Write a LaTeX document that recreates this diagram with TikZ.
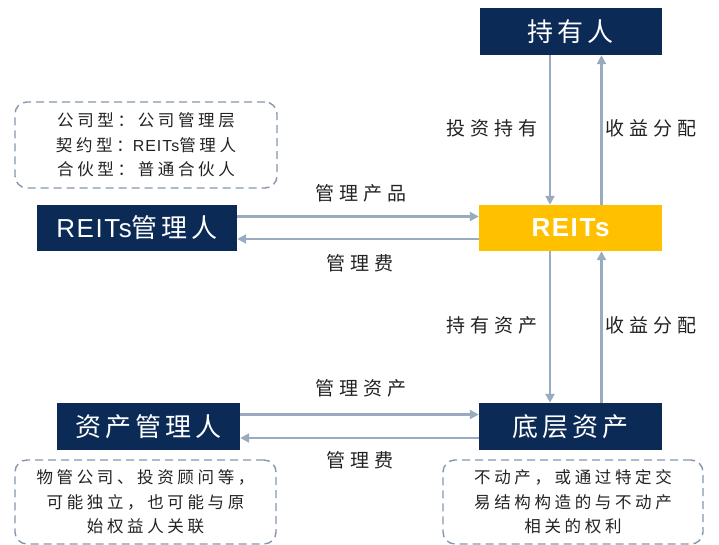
\documentclass[tikz,border=0pt]{standalone}
\usepackage{fontspec}
\usetikzlibrary{arrows.meta}
\newfontfamily\cjkbox[LetterSpace=15]{Noto Sans CJK SC}
\newfontfamily\cjklab[LetterSpace=25]{Noto Sans CJK SC}
\newfontfamily\cjknote[LetterSpace=22]{Noto Sans CJK SC}
\newfontfamily\latbox[LetterSpace=6]{Liberation Sans}
\definecolor{navy}{HTML}{0C2A56}
\definecolor{gold}{HTML}{FFC000}
\definecolor{arrowc}{HTML}{98ABBF}
\definecolor{dashc}{HTML}{8697AD}
\definecolor{labc}{HTML}{222222}
\tikzset{
  navybox/.style={fill=navy, text=white, minimum width=183pt, minimum height=47pt, inner sep=0pt, font=\fontsize{26}{28}\selectfont\cjkbox},
  goldbox/.style={fill=gold, text=white, minimum width=183pt, minimum height=46pt, inner sep=0pt, font=\fontsize{26}{28}\selectfont\latbox\bfseries},
  notebox/.style={draw=dashc, line width=1.4pt, dash pattern=on 8pt off 5pt, rounded corners=12pt, inner sep=0pt, align=center, text=labc, font=\fontsize{16.5}{24.5}\selectfont\cjknote},
  lab/.style={text=labc, inner sep=0pt, font=\fontsize{19}{20}\selectfont\cjklab},
  arr/.style={draw=arrowc, line width=2.4pt, -{Triangle[length=9pt,width=9pt]}}
}
\begin{document}
\begin{tikzpicture}[x=1pt,y=-1pt]
\useasboundingbox (0,0) rectangle (719,545);
\node[navybox, minimum width=182pt] (hold) at (570.5,31.5) {持有人};
\node[goldbox] (reits) at (570.5,228) {REITs};
\node[navybox, minimum width=200pt, minimum height=46pt] (mgr) at (137,228) {{\latbox REITs}管理人};
\node[navybox] (am) at (148.5,426.5) {资产管理人};
\node[navybox] (base) at (570.5,426.5) {底层资产};
\node[notebox, minimum width=262pt, minimum height=86pt] (n1) at (146,145) {公司型：公司管理层\\契约型：{\latbox\fontsize{16}{24}\selectfont REITs}管理人\\合伙型：普通合伙人};
\node[notebox, minimum width=261pt, minimum height=84pt] (n2) at (145.5,502) {物管公司、投资顾问等，\\可能独立，也可能与原\\始权益人关联};
\node[notebox, minimum width=260pt, minimum height=84pt] (n3) at (573,502) {不动产，或通过特定交\\易结构构造的与不动产\\相关的权利};
% vertical arrows
\draw[arr] ([xshift=-20.5pt]hold.south) -- ([xshift=-20.5pt]reits.north);
\draw[arr] ([xshift=31pt]reits.north) -- ([xshift=31pt]hold.south);
\draw[arr] ([xshift=-20.5pt]reits.south) -- ([xshift=-20.5pt]base.north);
\draw[arr] ([xshift=31pt]base.north) -- ([xshift=31pt]reits.south);
% horizontal arrows
\draw[arr] ([yshift=11.5pt]mgr.east) -- ([yshift=11.5pt]reits.west);
\draw[arr] ([yshift=-11pt]reits.west) -- ([yshift=-11pt]mgr.east);
\draw[arr] ([yshift=12pt]am.east) -- ([yshift=12pt]base.west);
\draw[arr] ([yshift=-11.5pt]base.west) -- ([yshift=-11.5pt]am.east);
% labels
\node[lab] (l1) at (492,128) {投资持有};
\node[lab] (l2) at (651,128) {收益分配};
\node[lab] (l3) at (361,193) {管理产品};
\node[lab] (l4) at (360,263) {管理费};
\node[lab] (l5) at (492,325) {持有资产};
\node[lab] (l6) at (651,325) {收益分配};
\node[lab] (l7) at (361,388) {管理资产};
\node[lab] (l8) at (360,460) {管理费};
\end{tikzpicture}
\end{document}
